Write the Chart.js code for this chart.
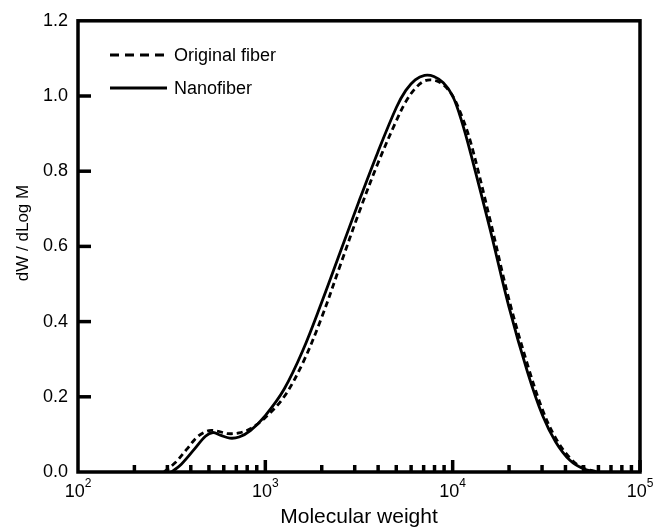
<!DOCTYPE html>
<html>
<head>
<meta charset="utf-8">
<title>Molecular weight distribution</title>
<script src="https://cdn.jsdelivr.net/npm/chart.js@4.4.1/dist/chart.umd.min.js"></script>
<style>
    html, body { margin: 0; padding: 0; background: #fff; }
    #mwdChart { display: block; }
</style>
</head>
<body>
<canvas id="mwdChart" width="659" height="530"></canvas>
<script>
// Molecular weight distributions (GPC)
const originalM = [288, 331, 380, 437, 501, 562, 631, 724, 832, 1000, 1259, 1585, 1995, 2512, 3162,
    3981, 5012, 5623, 6310, 7079, 7943, 8913, 10000, 11220, 12589, 15849, 19953, 25119, 30200, 35481,
    42658, 50119, 60256];
const originalW = [0.0, 0.025, 0.06, 0.095, 0.11, 0.108, 0.102, 0.104, 0.115, 0.145, 0.20, 0.29, 0.41, 0.55, 0.69,
    0.82, 0.935, 0.985, 1.02, 1.04, 1.042, 1.03, 1.0, 0.945, 0.87, 0.67, 0.46, 0.285, 0.165, 0.09,
    0.035, 0.01, 0.0];

const nanoM = [316, 355, 417, 479, 525, 575, 646, 724, 832, 1000, 1259, 1585, 1995, 2512, 3162,
    3981, 5012, 5623, 6310, 7079, 7943, 8913, 10000, 11220, 12589, 15849, 19953, 25119, 30200, 35481,
    42270, 50119, 58884];
const nanoW = [0.0, 0.02, 0.06, 0.095, 0.105, 0.098, 0.090, 0.093, 0.11, 0.15, 0.22, 0.323, 0.45, 0.585, 0.72,
    0.85, 0.97, 1.015, 1.043, 1.055, 1.052, 1.035, 1.0, 0.93, 0.84, 0.645, 0.44, 0.265, 0.15, 0.08,
    0.031, 0.008, 0.0];

const seriesLabels = ['Original fiber', 'Nanofiber'];
const decadeTicks = [100, 1000, 10000, 100000];
const decadeExponents = ['2', '3', '4', '5'];

const FONT = 'Arial, "Liberation Sans", sans-serif';

function toPoints(xs, ys) {
    return xs.map((x, i) => ({ x: x, y: ys[i] }));
}

// frame, inward ticks, 10^n labels, y title and the legend
const framePlugin = {
    id: 'frame',
    afterDraw(chart) {
        const ctx = chart.ctx;
        const area = chart.chartArea;
        const xs = chart.scales.x;
        const ys = chart.scales.y;

        ctx.save();
        ctx.strokeStyle = '#000';
        ctx.lineWidth = 3.5;
        ctx.lineCap = 'butt';
        ctx.setLineDash([]);

        // y ticks (inside)
        for (let v = 0.2; v < 1.2; v += 0.2) {
            const py = ys.getPixelForValue(v);
            ctx.beginPath();
            ctx.moveTo(area.left, py);
            ctx.lineTo(area.left + 13, py);
            ctx.stroke();
        }

        // x ticks (inside), majors at decades, minors at 2..9
        for (let d = 0; d < decadeTicks.length; d++) {
            const base = decadeTicks[d];
            if (d > 0) {
                const px = xs.getPixelForValue(base);
                ctx.beginPath();
                ctx.moveTo(px, area.bottom);
                ctx.lineTo(px, area.bottom - 12);
                ctx.stroke();
            }
            if (d < decadeTicks.length - 1) {
                for (let k = 2; k <= 9; k++) {
                    const px = xs.getPixelForValue(base * k);
                    ctx.beginPath();
                    ctx.moveTo(px, area.bottom);
                    ctx.lineTo(px, area.bottom - 7);
                    ctx.stroke();
                }
            }
        }

        // box
        ctx.strokeRect(area.left, area.top, area.right - area.left, area.bottom - area.top);

        // 10^n labels
        ctx.fillStyle = '#000';
        ctx.textBaseline = 'alphabetic';
        ctx.textAlign = 'left';
        decadeTicks.forEach((v, i) => {
            const px = xs.getPixelForValue(v);
            ctx.font = '18px ' + FONT;
            const wBase = ctx.measureText('10').width;
            ctx.font = '12px ' + FONT;
            const wExp = ctx.measureText(decadeExponents[i]).width;
            const start = px - (wBase + wExp) / 2;
            ctx.font = '18px ' + FONT;
            ctx.fillText('10', start, 497);
            ctx.font = '12px ' + FONT;
            ctx.fillText(decadeExponents[i], start + wBase, 487);
        });

        // y axis title
        ctx.save();
        ctx.translate(23, 233);
        ctx.rotate(-Math.PI / 2);
        ctx.textAlign = 'center';
        ctx.textBaseline = 'middle';
        ctx.font = '17px ' + FONT;
        ctx.fillText('dW / dLog M', 0, 0);
        ctx.restore();

        // legend
        const rows = [{ y: 55, dash: [9, 6] }, { y: 88, dash: [] }];
        rows.forEach((row, i) => {
            ctx.lineWidth = 2.8;
            ctx.setLineDash(row.dash);
            ctx.beginPath();
            ctx.moveTo(110, row.y);
            ctx.lineTo(167, row.y);
            ctx.stroke();
            ctx.setLineDash([]);
            ctx.font = '18px ' + FONT;
            ctx.textBaseline = 'middle';
            ctx.textAlign = 'left';
            ctx.fillText(seriesLabels[i], 174, row.y + 1);
        });
        ctx.restore();
    }
};

function createChart() {
    const ctx = document.getElementById('mwdChart').getContext('2d');

    return new Chart(ctx, {
        type: 'scatter',
        data: {
            datasets: [
                {
                    label: seriesLabels[0],
                    data: toPoints(originalM, originalW),
                    showLine: true,
                    borderColor: '#000',
                    borderWidth: 2.8,
                    borderDash: [6, 4],
                    pointRadius: 0,
                    tension: 0.35,
                    fill: false
                },
                {
                    label: seriesLabels[1],
                    data: toPoints(nanoM, nanoW),
                    showLine: true,
                    borderColor: '#000',
                    borderWidth: 2.8,
                    pointRadius: 0,
                    tension: 0.35,
                    fill: false
                }
            ]
        },
        options: {
            responsive: false,
            animation: false,
            devicePixelRatio: 1,
            layout: {
                padding: { top: 20, right: 19, left: 0, bottom: 0 }
            },
            scales: {
                x: {
                    type: 'logarithmic',
                    min: 100,
                    max: 100000,
                    grid: { display: false, drawTicks: false },
                    border: { display: false },
                    ticks: { display: false },
                    title: {
                        display: true,
                        text: 'Molecular weight',
                        color: '#000',
                        font: { family: FONT, size: 21 },
                        padding: { top: 0, bottom: 0 }
                    },
                    afterFit(scale) { scale.height = 58; }
                },
                y: {
                    min: 0,
                    max: 1.2,
                    grid: { display: false, drawTicks: false },
                    border: { display: false },
                    ticks: {
                        stepSize: 0.2,
                        color: '#000',
                        padding: 10,
                        font: { family: FONT, size: 18 },
                        callback: v => v.toFixed(1)
                    },
                    afterFit(scale) { scale.width = 78; }
                }
            },
            plugins: {
                legend: { display: false },
                tooltip: { enabled: false }
            }
        },
        plugins: [framePlugin]
    });
}

document.addEventListener('DOMContentLoaded', createChart);
</script>
</body>
</html>
